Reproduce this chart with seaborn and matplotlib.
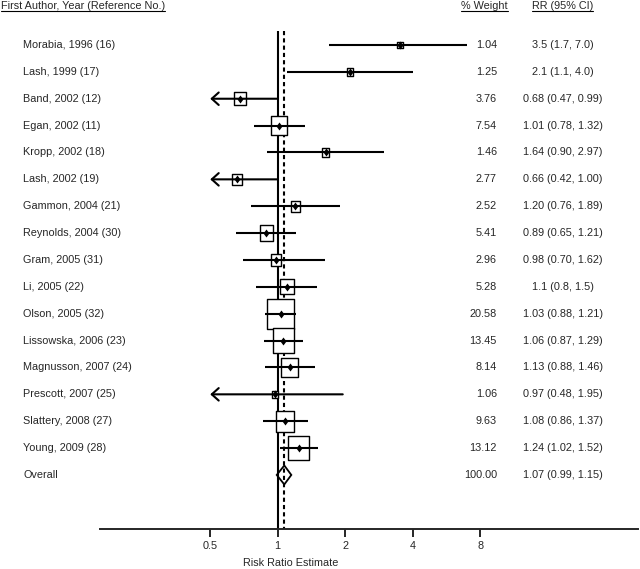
import numpy as np
import pandas as pd
import matplotlib
matplotlib.use("Agg")
import matplotlib.pyplot as plt
import matplotlib.transforms as mtransforms
from matplotlib.markers import MarkerStyle
from matplotlib.path import Path
from matplotlib.lines import Line2D
import seaborn as sns

sns.set_style("white")
plt.rcParams["font.family"] = ["Liberation Sans", "DejaVu Sans"]
FS = 7.8

# ── data ──────────────────────────────────────────────────────────────────────
studies = ["Morabia, 1996 (16)", "Lash, 1999 (17)", "Band, 2002 (12)", "Egan, 2002 (11)",
           "Kropp, 2002 (18)", "Lash, 2002 (19)", "Gammon, 2004 (21)", "Reynolds, 2004 (30)",
           "Gram, 2005 (31)", "Li, 2005 (22)", "Olson, 2005 (32)", "Lissowska, 2006 (23)",
           "Magnusson, 2007 (24)", "Prescott, 2007 (25)", "Slattery, 2008 (27)", "Young, 2009 (28)"]
weights = [1.04, 1.25, 3.76, 7.54, 1.46, 2.77, 2.52, 5.41, 2.96, 5.28, 20.58, 13.45, 8.14, 1.06, 9.63, 13.12]
rr    = [3.5, 2.1, 0.68, 1.01, 1.64, 0.66, 1.20, 0.89, 0.98, 1.1, 1.03, 1.06, 1.13, 0.97, 1.08, 1.24]
ci_lo = [1.7, 1.1, 0.47, 0.78, 0.90, 0.42, 0.76, 0.65, 0.70, 0.8, 0.88, 0.87, 0.88, 0.48, 0.86, 1.02]
ci_hi = [7.0, 4.0, 0.99, 1.32, 2.97, 1.00, 1.89, 1.21, 1.62, 1.5, 1.21, 1.29, 1.46, 1.95, 1.37, 1.52]
rr_text = ["3.5 (1.7, 7.0)", "2.1 (1.1, 4.0)", "0.68 (0.47, 0.99)", "1.01 (0.78, 1.32)",
           "1.64 (0.90, 2.97)", "0.66 (0.42, 1.00)", "1.20 (0.76, 1.89)", "0.89 (0.65, 1.21)",
           "0.98 (0.70, 1.62)", "1.1 (0.8, 1.5)", "1.03 (0.88, 1.21)", "1.06 (0.87, 1.29)",
           "1.13 (0.88, 1.46)", "0.97 (0.48, 1.95)", "1.08 (0.86, 1.37)", "1.24 (1.02, 1.52)"]
overall_rr, overall_lo, overall_hi = 1.07, 0.99, 1.15
overall_weight = "100.00"
overall_text = "1.07 (0.99, 1.15)"
x_ticks = [0.5, 1, 2, 4, 8]
x_min = 0.5   # CI below this gets an arrow

df = pd.DataFrame({"study": studies, "weight": weights, "rr": rr, "lo": ci_lo, "hi": ci_hi})
df["row"] = np.arange(len(df))
overall_row = len(df)

# ── figure ────────────────────────────────────────────────────────────────────
fig = plt.figure(figsize=(6.4, 5.69), dpi=100)
ax = fig.add_axes([100/640, 40.3/569, 538/640, 528.7/569])
ax.set_xscale("log", base=2)
ax.set_xlim(2**-2.633, 2**5.338)
ax.set_ylim(18, -1.674)

# reference lines (null and overall)
ax.vlines(1, -0.52, 18, color="black", lw=1.5, zorder=1)
ax.vlines(overall_rr, -0.52, 18, color="black", lw=1.5, linestyles=[(0, (2, 1.5))], zorder=1)

# weight boxes, side ~ sqrt(weight)
box = MarkerStyle(Path([(-0.88, -1), (0.88, -1), (0.88, 1), (-0.88, 1), (-0.88, -1)], closed=True))
sns.scatterplot(data=df, x="rr", y="row", size="weight", sizes=(0, 2300), size_norm=(0, 100),
                marker=box, facecolor="white", edgecolor="black", linewidth=1.0,
                legend=False, ax=ax, zorder=2)

# confidence intervals
for _, r in df.iterrows():
    if r["lo"] < x_min:
        ax.annotate("", xy=(x_min, r["row"]), xytext=(r["hi"], r["row"]),
                    arrowprops=dict(arrowstyle="->, head_length=0.5, head_width=0.45",
                                    lw=1.5, color="black", shrinkA=0, shrinkB=0), zorder=3)
    else:
        ax.hlines(r["row"], r["lo"], r["hi"], color="black", lw=1.5, zorder=3)

# point estimates
dmd = MarkerStyle(Path([(0, 1), (0.75, 0), (0, -1), (-0.75, 0), (0, 1)], closed=True))
sns.scatterplot(data=df, x="rr", y="row", marker=dmd, s=33, color="black",
                linewidth=0, legend=False, ax=ax, zorder=4)

# overall diamond
h = 0.353
ax.fill([overall_lo, overall_rr, overall_hi, overall_rr],
        [overall_row, overall_row - h, overall_row, overall_row + h],
        facecolor="none", edgecolor="black", lw=1.3, zorder=4)

# axis styling
for s in ["top", "right", "left"]:
    ax.spines[s].set_visible(False)
ax.spines["bottom"].set_linewidth(1.4)
ax.set_xticks(x_ticks)
ax.set_xticklabels([f"{t:g}" for t in x_ticks], fontsize=FS)
ax.xaxis.set_minor_locator(matplotlib.ticker.NullLocator())
ax.tick_params(axis="x", direction="out", length=6, width=1.4, pad=3, bottom=True)
ax.set_yticks([])
ax.set_xlabel("")
ax.set_ylabel("")
fig.text(291/640, 1 - 563/569, "Risk Ratio Estimate", ha="center", va="center", fontsize=FS)

# text columns
tr = mtransforms.blended_transform_factory(fig.transFigure, ax.transData)
for _, r in df.iterrows():
    ax.text(23/640, r["row"], r["study"], transform=tr, ha="left", va="center", fontsize=FS)
    ax.text(497/640, r["row"], f"{r['weight']:.2f}", transform=tr, ha="right", va="center", fontsize=FS)
    ax.text(563/640, r["row"], rr_text[int(r["row"])], transform=tr, ha="center", va="center", fontsize=FS)
ax.text(23/640, overall_row, "Overall", transform=tr, ha="left", va="center", fontsize=FS)
ax.text(497/640, overall_row, overall_weight, transform=tr, ha="right", va="center", fontsize=FS)
ax.text(563/640, overall_row, overall_text, transform=tr, ha="center", va="center", fontsize=FS)

# underlined headers
hy = -1.45
headers = [ax.text(1/640, hy, "First Author, Year (Reference No.)", transform=tr, ha="left", va="center", fontsize=FS),
           ax.text(484.5/640, hy, "% Weight", transform=tr, ha="center", va="center", fontsize=FS),
           ax.text(562.5/640, hy, "RR (95% CI)", transform=tr, ha="center", va="center", fontsize=FS)]
fig.canvas.draw()
for t in headers:
    bb = t.get_window_extent()
    fig.add_artist(Line2D([bb.x0, bb.x1], [bb.y0 + 0.5, bb.y0 + 0.5], transform=None,
                          color="black", lw=0.8))

fig.savefig("out.png", dpi=100)
